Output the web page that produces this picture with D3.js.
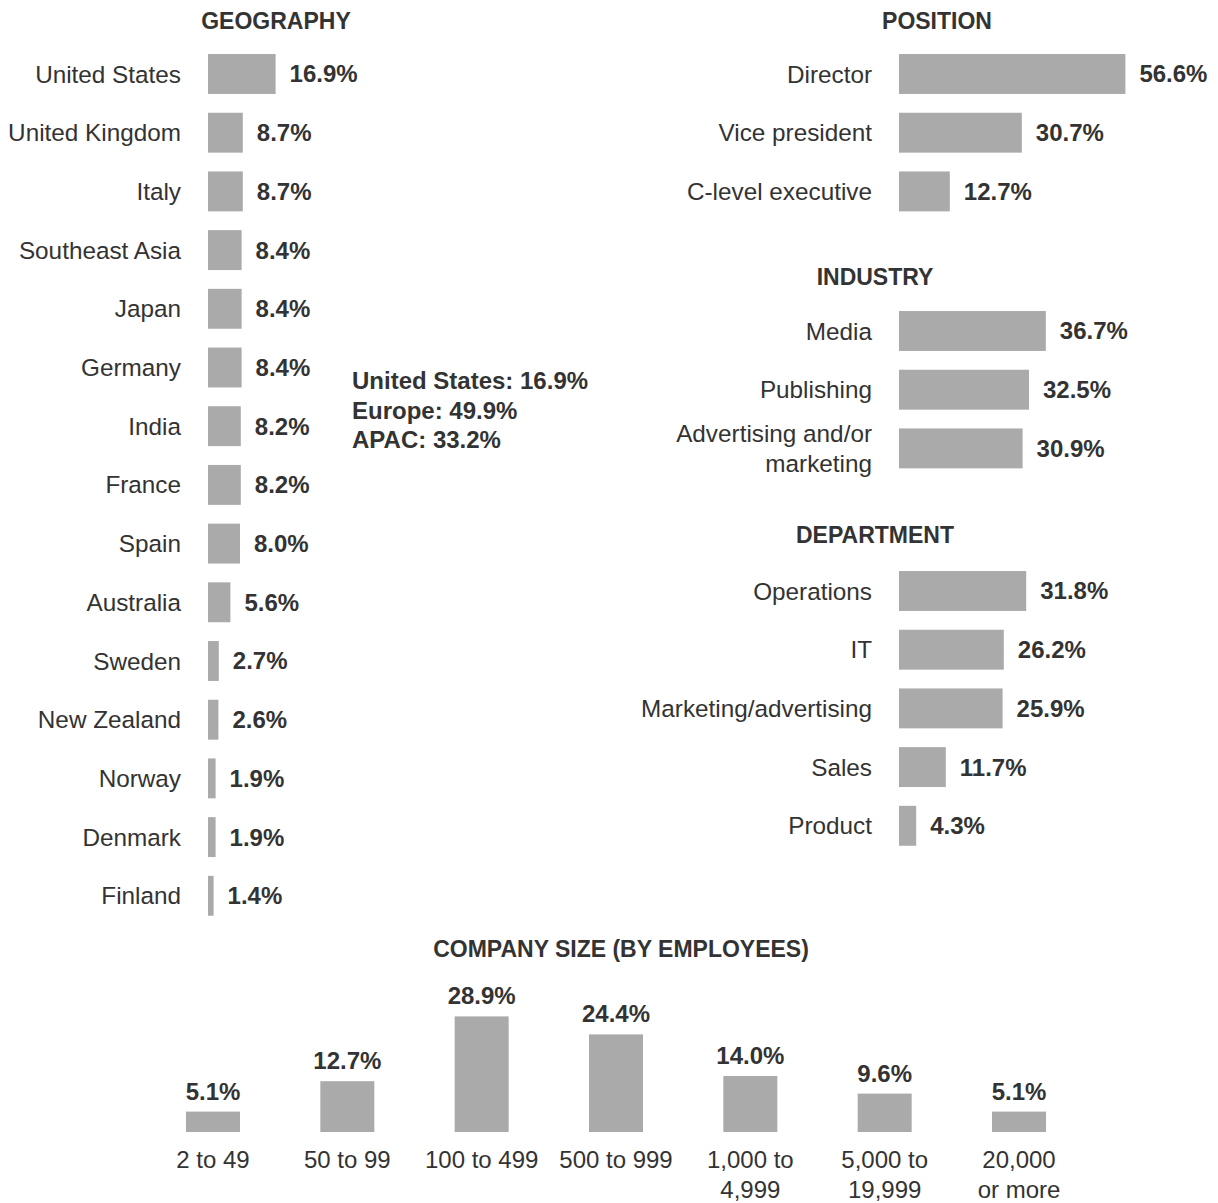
<!DOCTYPE html>
<html>
<head>
<meta charset="utf-8">
<script src="https://cdn.jsdelivr.net/npm/d3@7"></script>
<style>
  body { margin: 0; background: #fff; }
  svg text { font-family: "Liberation Sans", Arial, Helvetica, sans-serif; fill: #333; }
</style>
</head>
<body>
<svg id="chart" width="1218" height="1203"></svg>
<script>
// survey respondent breakdowns, in percent
const geoCategories = ['United States', 'United Kingdom', 'Italy', 'Southeast Asia', 'Japan', 'Germany', 'India',
  'France', 'Spain', 'Australia', 'Sweden', 'New Zealand', 'Norway', 'Denmark', 'Finland']
const geoValues = [16.9, 8.7, 8.7, 8.4, 8.4, 8.4, 8.2, 8.2, 8.0, 5.6, 2.7, 2.6, 1.9, 1.9, 1.4]
const geoSummary = ['United States: 16.9%', 'Europe: 49.9%', 'APAC: 33.2%']

const positionCategories = ['Director', 'Vice president', 'C-level executive']
const positionValues = [56.6, 30.7, 12.7]

const industryCategories = ['Media', 'Publishing', 'Advertising and/or\nmarketing']
const industryValues = [36.7, 32.5, 30.9]

const departmentCategories = ['Operations', 'IT', 'Marketing/advertising', 'Sales', 'Product']
const departmentValues = [31.8, 26.2, 25.9, 11.7, 4.3]

const sizeCategories = ['2 to 49', '50 to 99', '100 to 499', '500 to 999', '1,000 to\n4,999', '5,000 to\n19,999', '20,000\nor more']
const sizeValues = [5.1, 12.7, 28.9, 24.4, 14.0, 9.6, 5.1]

const BAR = '#aaaaaa'
const STEP = 58.7
const fmt = (v) => v.toFixed(1) + '%'

const svg = d3.select('#chart')

// one length scale shared by every panel
const len = d3.scaleLinear().domain([0, 60]).range([0, 240])

/**
 * Draws a section title centred on x.
 */
function drawTitle (text, x, y) {
  svg.append('text')
    .attr('x', x)
    .attr('y', y)
    .attr('text-anchor', 'middle')
    .style('font-size', '23px')
    .style('font-weight', 'bold')
    .text(text)
}

/**
 * Draws a horizontal bar block with labels on the left and values on the right.
 */
function drawHBars (cats, values, x0, yCenter0) {
  const y = d3.scaleBand()
    .domain(cats)
    .range([yCenter0 - STEP / 2, yCenter0 - STEP / 2 + cats.length * STEP])
    .paddingInner(0.32)
    .paddingOuter(0.16)
  const g = svg.append('g')
  const rows = g.selectAll('.row')
    .data(cats.map((c, i) => ({ cat: c, value: values[i] })))
    .join('g')
    .attr('class', 'row')

  rows.append('rect')
    .attr('x', x0)
    .attr('y', (d) => y(d.cat))
    .attr('width', (d) => len(d.value))
    .attr('height', y.bandwidth())
    .attr('fill', BAR)

  rows.append('text')
    .attr('x', (d) => x0 + len(d.value) + 14)
    .attr('y', (d) => y(d.cat) + y.bandwidth() / 2)
    .attr('dy', '0.35em')
    .style('font-size', '24px')
    .style('font-weight', 'bold')
    .text((d) => fmt(d.value))

  rows.append('text')
    .attr('text-anchor', 'end')
    .style('font-size', '24.3px')
    .each(function (d) {
      const lines = d.cat.split('\n')
      const cy = y(d.cat) + y.bandwidth() / 2
      const top = cy - (lines.length - 1) * 30 / 2
      d3.select(this).selectAll('tspan')
        .data(lines)
        .join('tspan')
        .attr('x', x0 - 27)
        .attr('y', (l, i) => top + i * 30)
        .attr('dy', '0.35em')
        .text((l) => l)
    })
}

// left: geography
drawTitle('GEOGRAPHY', 276, 29)
drawHBars(geoCategories, geoValues, 208, 74)

svg.append('text')
  .style('font-size', '24px')
  .style('font-weight', 'bold')
  .selectAll('tspan')
  .data(geoSummary)
  .join('tspan')
  .attr('x', 352)
  .attr('y', (d, i) => 381 + i * 29.5)
  .attr('dy', '0.35em')
  .text((d) => d)

// right column
drawTitle('POSITION', 937, 29)
drawHBars(positionCategories, positionValues, 899, 74)

drawTitle('INDUSTRY', 875, 285)
drawHBars(industryCategories, industryValues, 899, 331)

drawTitle('DEPARTMENT', 875, 543)
drawHBars(departmentCategories, departmentValues, 899, 591)

// bottom: company size columns
drawTitle('COMPANY SIZE (BY EMPLOYEES)', 621, 957)

const baseY = 1132
const xs = d3.scalePoint().domain(sizeCategories).range([213, 1019])
const colW = 54
const cols = svg.append('g').selectAll('.col')
  .data(sizeCategories.map((c, i) => ({ cat: c, value: sizeValues[i] })))
  .join('g')
  .attr('class', 'col')

cols.append('rect')
  .attr('x', (d) => xs(d.cat) - colW / 2)
  .attr('y', (d) => baseY - len(d.value))
  .attr('width', colW)
  .attr('height', (d) => len(d.value))
  .attr('fill', BAR)

cols.append('text')
  .attr('x', (d) => xs(d.cat))
  .attr('y', (d) => baseY - len(d.value) - 12)
  .attr('text-anchor', 'middle')
  .style('font-size', '24px')
  .style('font-weight', 'bold')
  .text((d) => fmt(d.value))

cols.append('text')
  .attr('text-anchor', 'middle')
  .style('font-size', '24px')
  .each(function (d) {
    d3.select(this).selectAll('tspan')
      .data(d.cat.split('\n'))
      .join('tspan')
      .attr('x', xs(d.cat))
      .attr('y', (l, i) => 1168 + i * 30)
      .text((l) => l)
  })
</script>
</body>
</html>
